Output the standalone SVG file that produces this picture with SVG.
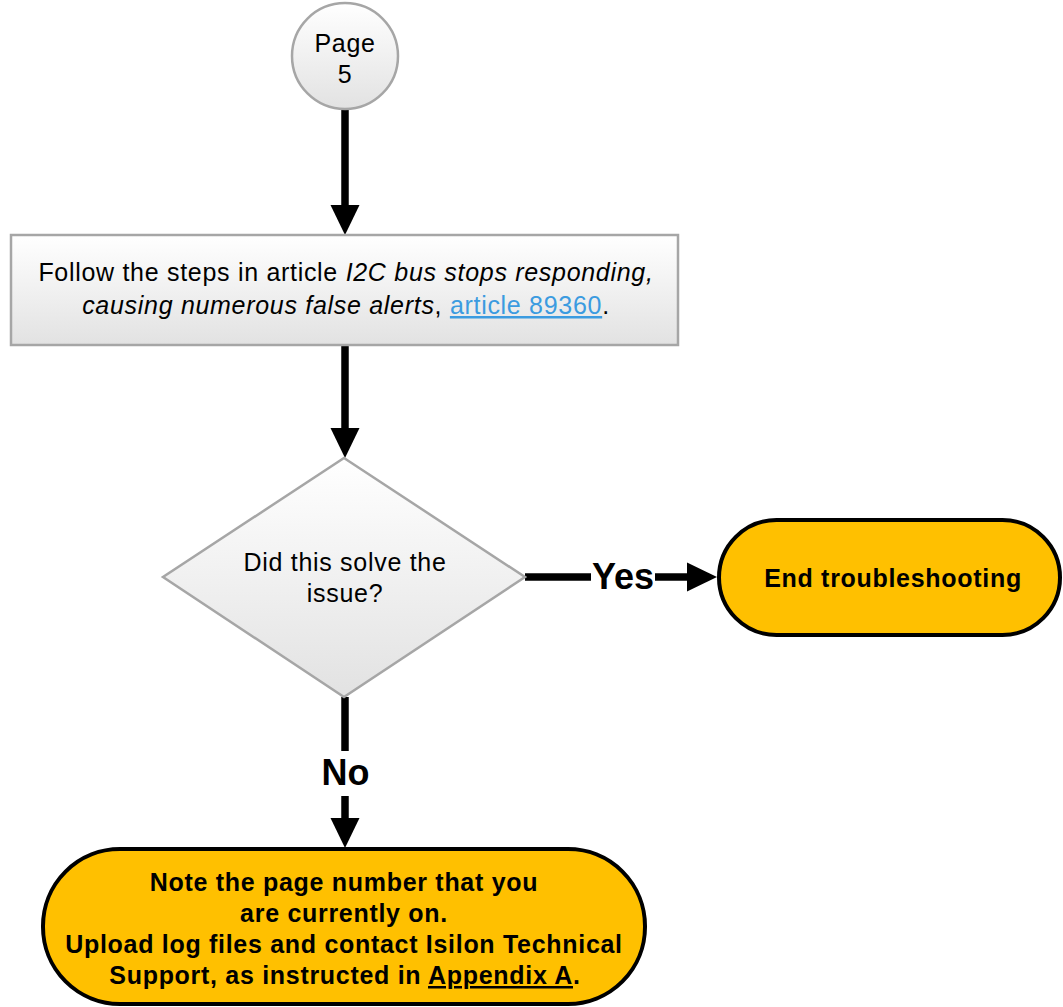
<svg xmlns="http://www.w3.org/2000/svg" width="1063" height="1007" viewBox="0 0 1063 1007">
<style>
  .t { font-family: "Liberation Sans", Arial, sans-serif; font-size: 25px; fill: #000; letter-spacing: 0.7px; }
  .b { font-weight: bold; }
  .lbl { font-family: "Liberation Sans", Arial, sans-serif; font-size: 36px; font-weight: bold; fill: #000; }
  .gray { stroke: #a6a6a6; stroke-width: 2.5; }
  .term { fill: #FFC000; stroke: #000; stroke-width: 4; }
  .conn { stroke: #000; stroke-width: 7.5; fill: none; }
  .link { fill: #3b9be0; text-decoration: underline; }
</style>
<defs>
  <linearGradient id="g" x1="0" y1="0" x2="0" y2="1">
    <stop offset="0" stop-color="#ffffff"/>
    <stop offset="1" stop-color="#e2e2e2"/>
  </linearGradient>
  <marker id="ah" markerUnits="userSpaceOnUse" markerWidth="31" markerHeight="30" refX="0" refY="14.5" orient="auto" overflow="visible">
    <path d="M0,0 L30,14.5 L0,29 z" fill="#000"/>
  </marker>
</defs>

<g id="connectors">
  <line class="conn" x1="345" y1="110" x2="345" y2="205" marker-end="url(#ah)"/>
  <line class="conn" x1="345" y1="345" x2="345" y2="428" marker-end="url(#ah)"/>
  <line class="conn" x1="525" y1="577" x2="591" y2="577"/>
  <line class="conn" x1="655" y1="577" x2="687" y2="577" marker-end="url(#ah)"/>
  <text class="lbl" x="623" y="589" text-anchor="middle">Yes</text>
  <line class="conn" x1="345" y1="697" x2="345" y2="751"/>
  <line class="conn" x1="345" y1="796" x2="345" y2="818" marker-end="url(#ah)"/>
  <text class="lbl" x="345.5" y="785" text-anchor="middle">No</text>
</g>

<g id="page5">
  <circle cx="345" cy="56" r="53" fill="url(#g)" class="gray"/>
  <text class="t" x="345" y="52" text-anchor="middle">Page</text>
  <text class="t" x="345" y="83" text-anchor="middle">5</text>
</g>

<g id="follow-steps">
  <rect x="11" y="235" width="667" height="110" fill="url(#g)" class="gray"/>
  <text class="t" x="346" y="281" text-anchor="middle">Follow the steps in article <tspan font-style="italic">I2C bus stops responding,</tspan></text>
  <text class="t" x="346" y="314" text-anchor="middle"><tspan font-style="italic">causing numerous false alerts</tspan>, <tspan class="link">article 89360</tspan>.</text>
</g>

<g id="decision">
  <polygon points="344,458 525,577 344,697 163,577" fill="url(#g)" class="gray"/>
  <text class="t" x="345" y="571" text-anchor="middle">Did this solve the</text>
  <text class="t" x="345" y="602" text-anchor="middle">issue?</text>
</g>

<g id="end-troubleshooting">
  <rect x="719" y="520" width="341" height="115" rx="57.5" ry="57.5" class="term"/>
  <text class="t b" x="893" y="587" text-anchor="middle">End troubleshooting</text>
</g>

<g id="contact-support">
  <rect x="43" y="849" width="602" height="155" rx="77" ry="77" class="term"/>
  <text class="t b" x="344" y="891" text-anchor="middle">Note the page number that you</text>
  <text class="t b" x="344" y="922" text-anchor="middle">are currently on.</text>
  <text class="t b" x="344" y="953" text-anchor="middle">Upload log files and contact Isilon Technical</text>
  <text class="t b" x="345" y="984" text-anchor="middle">Support, as instructed in <tspan text-decoration="underline">Appendix A</tspan>.</text>
</g>
</svg>
